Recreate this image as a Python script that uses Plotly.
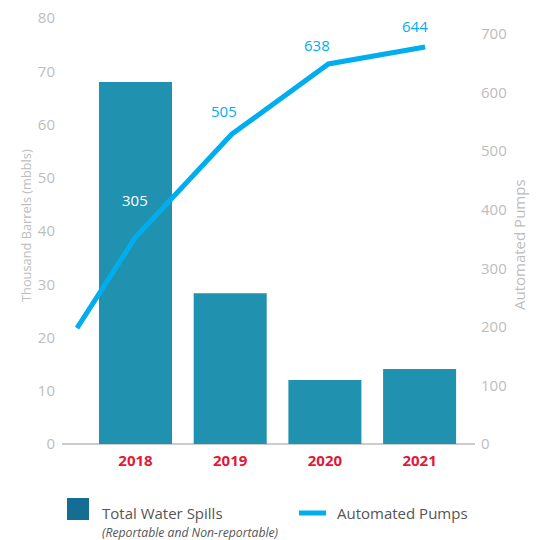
import plotly.graph_objects as go

years = ["2018", "2019", "2020", "2021"]
spills = [68.0, 28.3, 12.0, 14.1]          # thousand barrels
pump_x = [-0.6, 0, 1, 2, 3]                 # line positions (first point before 2018)
pumps_plotted = [198, 352, 529, 649, 678]   # line as drawn
pump_labels = ["305", "505", "638", "644"]  # printed labels for 2018-2021

BAR = "#2191b0"
LEG_BAR = "#146e94"
LINE = "#00aeef"
RED = "#e31837"
GRAY = "#bdbdbd"
FONT = "Open Sans"

W, H = 537, 540
L, R, T, B = 62, 62, 18, 96
pw, ph = W - L - R, H - T - B

def px(x):
    return (x - L) / pw

def py(y):
    return (H - B - y) / ph

fig = go.Figure()
fig.add_trace(go.Bar(x=list(range(len(years))), y=spills, marker_color=BAR,
                     marker_line_width=0, xaxis="x", yaxis="y", showlegend=False,
                     hoverinfo="skip"))
fig.add_trace(go.Scatter(x=pump_x, y=pumps_plotted, mode="lines",
                         line=dict(color=LINE, width=5), xaxis="x2", yaxis="y2",
                         showlegend=False, cliponaxis=False, hoverinfo="skip"))

shifts = [(0, 38, "white"), (-8, 23, LINE), (-11, 19, LINE), (-10, 21, LINE)]
annotations = []
for i, lab in enumerate(pump_labels):
    dx, dy, col = shifts[i]
    annotations.append(dict(x=pump_x[i + 1], y=pumps_plotted[i + 1], xref="x2", yref="y2",
                            text=lab, showarrow=False, xshift=dx, yshift=dy,
                            font=dict(family=FONT, size=15, color=col)))

def pa(x, y, text, size=15, color="#555555", angle=0, xanchor="left"):
    return dict(x=px(x), y=py(y), xref="paper", yref="paper", text=text, showarrow=False,
                xanchor=xanchor, yanchor="middle", textangle=angle,
                font=dict(family=FONT, size=size, color=color))

annotations += [
    pa(26, 226, "Thousand Barrels (mbbls)", size=12.8, color=GRAY, angle=-90, xanchor="center"),
    pa(519, 245, "Automated Pumps", color=GRAY, angle=-90, xanchor="center"),
    pa(100, 513, "Total Water Spills"),
    pa(100, 532, "<i>(Reportable and Non-reportable)</i>", size=12.2),
    pa(335, 513, "Automated Pumps"),
]

shapes = [
    dict(type="rect", xref="paper", yref="paper", x0=px(67), x1=px(89), y0=py(520), y1=py(498),
         fillcolor=LEG_BAR, line_width=0),
    dict(type="line", xref="paper", yref="paper", x0=px(299), x1=px(326), y0=py(513), y1=py(513),
         line=dict(color=LINE, width=5)),
]

fig.update_layout(
    width=W, height=H, margin=dict(l=L, r=R, t=T, b=B, autoexpand=False),
    paper_bgcolor="white", plot_bgcolor="white",
    font=dict(family=FONT, size=15, color=GRAY),
    bargap=0.229, hovermode=False,
    xaxis=dict(range=[-0.776, 3.585], tickvals=list(range(len(years))), ticktext=years,
               tickfont=dict(family=FONT, size=15, color=RED, weight="bold"),
               showgrid=False, zeroline=False, showline=False, ticks="", automargin=False,
               ticklabelstandoff=6),
    xaxis2=dict(range=[-0.755, 3.516], overlaying="x", visible=False, automargin=False),
    yaxis=dict(range=[0, 80], dtick=10, showgrid=False, zeroline=True, zerolinecolor="#cccccc",
               zerolinewidth=1.5, tickfont=dict(family=FONT, size=15, color=GRAY),
               ticks="", ticklabelstandoff=6, automargin=False),
    yaxis2=dict(range=[0, 727.5], dtick=100, overlaying="y", side="right", showgrid=False,
                zeroline=False, tickfont=dict(family=FONT, size=15, color=GRAY),
                ticks="", ticklabelstandoff=5, automargin=False),
    annotations=annotations, shapes=shapes, showlegend=False,
)

fig.write_html("out.html", config={"displayModeBar": False, "staticPlot": True},
               post_script="document.body.style.margin='0';document.body.style.overflow='hidden';")
